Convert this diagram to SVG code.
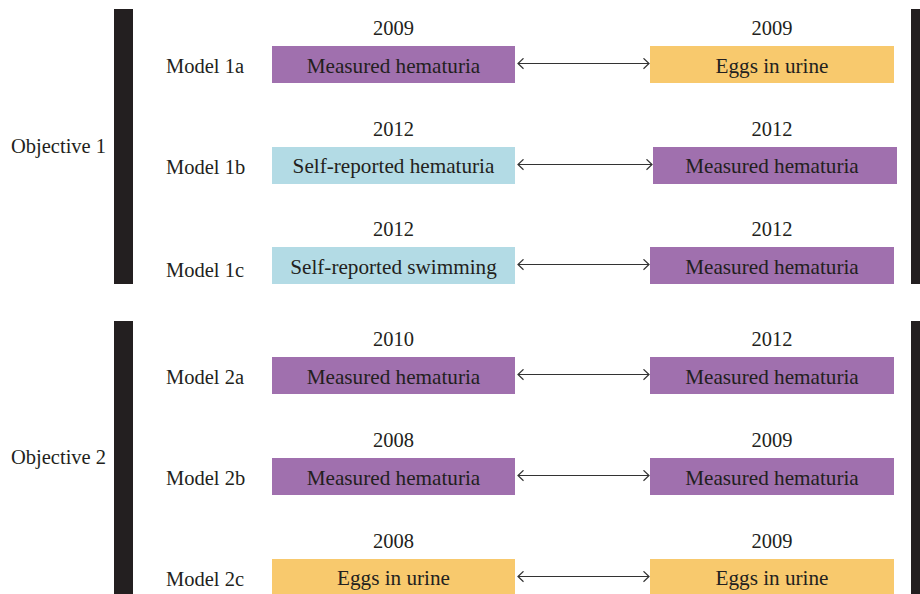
<svg xmlns="http://www.w3.org/2000/svg" width="920" height="594" viewBox="0 0 920 594">
<defs>
<style>
text{font-family:"Liberation Serif","Times New Roman",serif;font-size:20.5px;fill:#231f20}
.c{text-anchor:middle}
.t{font-size:21.2px}
.bar{fill:#231f20}
.p{fill:#a070ae}
.y{fill:#f8c96d}
.b{fill:#b3dbe5}
.arr{stroke:#333;stroke-width:1.2;fill:none;marker-start:url(#ah);marker-end:url(#ah)}
</style>
<marker id="ah" viewBox="0 0 12 12" refX="11" refY="6" markerWidth="12" markerHeight="12" markerUnits="userSpaceOnUse" orient="auto-start-reverse">
<path d="M5.5,0.8 L11,6 L5.5,11.2" fill="none" stroke="#333" stroke-width="1.2"/>
</marker>
</defs>
<rect width="920" height="594" fill="#fff"/>
<g id="objective1">
<rect class="bar" x="114" y="9" width="19" height="275"/>
<rect class="bar" x="911" y="9" width="9" height="275"/>
<text x="11" y="153">Objective 1</text>
</g>
<g id="objective2">
<rect class="bar" x="114" y="321" width="19" height="273"/>
<rect class="bar" x="911" y="321" width="9" height="273"/>
<text x="11" y="464">Objective 2</text>
</g>
<g id="model1a">
<text x="166" y="73">Model 1a</text>
<text class="c" x="393.5" y="35">2009</text>
<rect class="p" x="272" y="46" width="243" height="37"/>
<text class="c t" x="393.5" y="73">Measured hematuria</text>
<text class="c" x="772" y="35">2009</text>
<rect class="y" x="650" y="46" width="244" height="37"/>
<text class="c t" x="772" y="73">Eggs in urine</text>
</g>
<g id="model1b">
<text x="166" y="174">Model 1b</text>
<text class="c" x="393.5" y="136">2012</text>
<rect class="b" x="272" y="147" width="243" height="37"/>
<text class="c t" x="393.5" y="173">Self-reported hematuria</text>
<text class="c" x="772" y="136">2012</text>
<rect class="p" x="653" y="147" width="244" height="37"/>
<text class="c t" x="772" y="173">Measured hematuria</text>
</g>
<g id="model1c">
<text x="166" y="277">Model 1c</text>
<text class="c" x="393.5" y="236">2012</text>
<rect class="b" x="272" y="247" width="243" height="37"/>
<text class="c t" x="393.5" y="274">Self-reported swimming</text>
<text class="c" x="772" y="236">2012</text>
<rect class="p" x="650" y="247" width="244" height="37"/>
<text class="c t" x="772" y="274">Measured hematuria</text>
</g>
<g id="model2a">
<text x="166" y="384">Model 2a</text>
<text class="c" x="393.5" y="346">2010</text>
<rect class="p" x="272" y="357" width="243" height="37"/>
<text class="c t" x="393.5" y="384">Measured hematuria</text>
<text class="c" x="772" y="346">2012</text>
<rect class="p" x="650" y="357" width="244" height="37"/>
<text class="c t" x="772" y="384">Measured hematuria</text>
</g>
<g id="model2b">
<text x="166" y="485">Model 2b</text>
<text class="c" x="393.5" y="447">2008</text>
<rect class="p" x="272" y="458" width="243" height="37"/>
<text class="c t" x="393.5" y="485">Measured hematuria</text>
<text class="c" x="772" y="447">2009</text>
<rect class="p" x="650" y="458" width="244" height="37"/>
<text class="c t" x="772" y="485">Measured hematuria</text>
</g>
<g id="model2c">
<text x="166" y="586">Model 2c</text>
<text class="c" x="393.5" y="548">2008</text>
<rect class="y" x="272" y="559" width="243" height="37"/>
<text class="c t" x="393.5" y="585">Eggs in urine</text>
<text class="c" x="772" y="548">2009</text>
<rect class="y" x="650" y="559" width="244" height="37"/>
<text class="c t" x="772" y="585">Eggs in urine</text>
</g>
<g id="connectors">
<line class="arr" x1="518" y1="63.5" x2="649" y2="63.5"/>
<line class="arr" x1="518" y1="164.5" x2="652" y2="164.5"/>
<line class="arr" x1="518" y1="264.5" x2="649" y2="264.5"/>
<line class="arr" x1="518" y1="374.5" x2="649" y2="374.5"/>
<line class="arr" x1="518" y1="475.5" x2="649" y2="475.5"/>
<line class="arr" x1="518" y1="576.5" x2="649" y2="576.5"/>
</g>
</svg>
